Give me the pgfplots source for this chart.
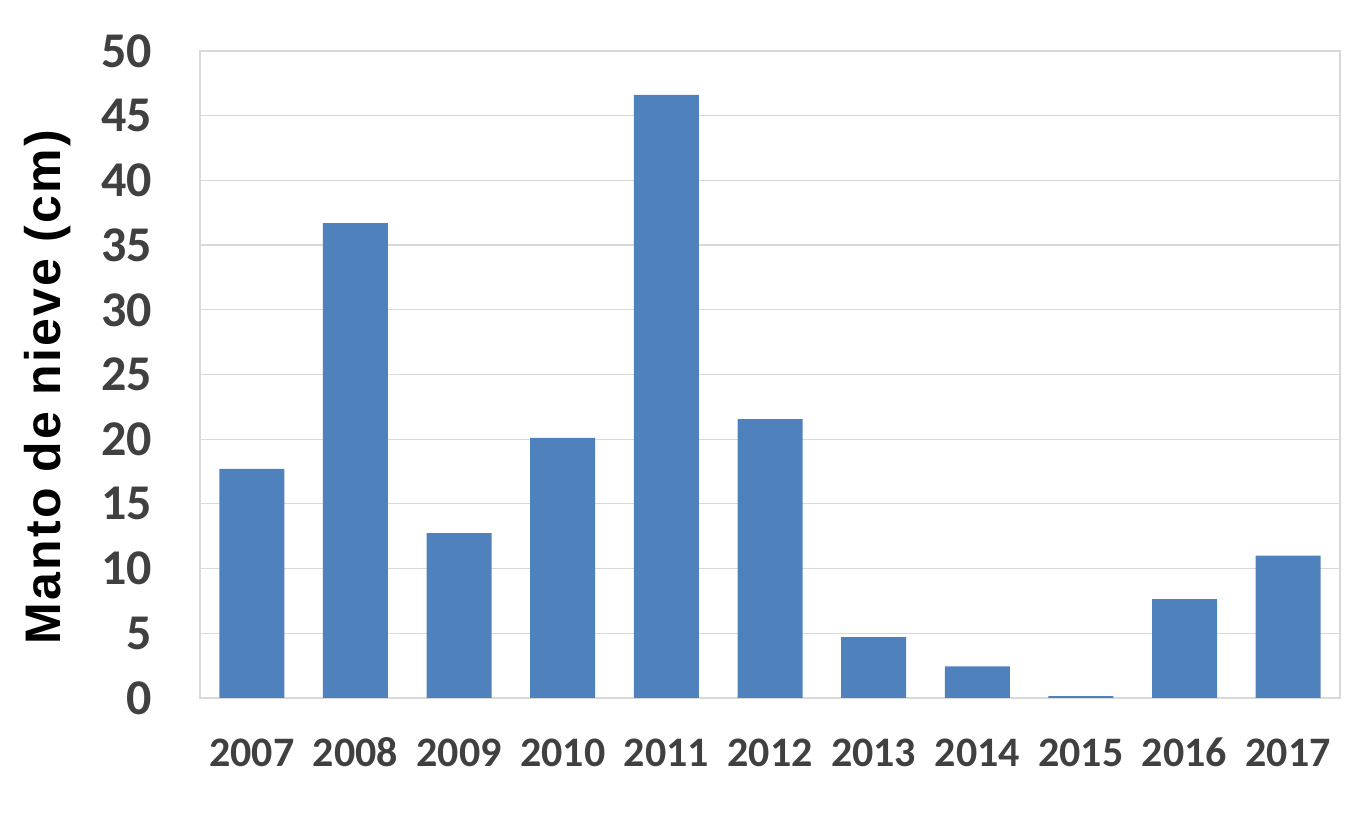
\documentclass[border=0pt]{standalone}
\usepackage{pgfplots}
\pgfplotsset{compat=1.18}
\usepackage{fontspec}
\setmainfont{Carlito}
\newfontfamily\arialfont[LetterSpace=4.5]{Liberation Sans}
\definecolor{barblue}{HTML}{4F81BD}
\definecolor{gridgray}{HTML}{D9D9D9}
\definecolor{ticktext}{HTML}{404040}
\pgfplotstableread{
x val
0 17.7
1 36.7
2 12.75
3 20.1
4 46.6
5 21.55
6 4.7
7 2.45
8 0.15
9 7.65
10 11.0
}\snowdata
\begin{document}
\begin{tikzpicture}
\useasboundingbox (-200pt,-115pt) rectangle (1164pt,698pt);
\begin{axis}[
  at={(0pt,0pt)}, anchor=south west,
  scale only axis,
  width=1140pt, height=647pt,
  xmin=-0.5, xmax=10.5,
  ymin=0, ymax=50,
  ytick={0,5,...,50},
  xtick=data,
  xticklabels={2007,2008,2009,2010,2011,2012,2013,2014,2015,2016,2017},
  major tick length=0pt,
  ymajorgrids=true,
  grid style={gridgray, line width=1.2pt},
  axis line style={gridgray, line width=1.2pt},
  /pgf/number format/assume math mode=true,
  yticklabel style={font=\fontsize{50}{50}\selectfont\bfseries, text=ticktext, inner sep=0pt, anchor=east, xshift=-48pt},
  xticklabel style={font=\fontsize{42}{42}\selectfont\bfseries, text=ticktext, inner sep=0pt, anchor=base, yshift=-68pt},
  ylabel={Manto de nieve (cm)},
  ylabel style={font=\arialfont\fontsize{50}{50}\selectfont\bfseries, text=black, at={(axis description cs:-0.134,0.48)}, anchor=center, inner sep=0pt},
  ybar, bar width=65pt,
]
\addplot[fill=barblue, draw=none] table[x=x, y=val] {\snowdata};
\end{axis}
\end{tikzpicture}
\end{document}
